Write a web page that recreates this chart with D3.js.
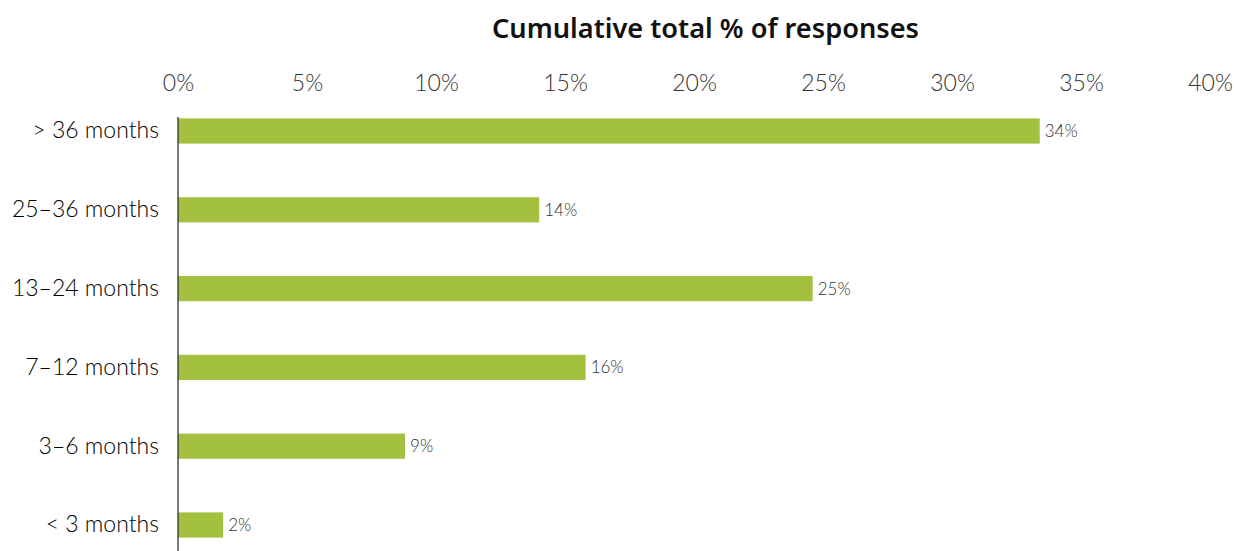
<!DOCTYPE html>
<html><head><meta charset="utf-8">
<script src="https://cdn.jsdelivr.net/npm/d3@7"></script>
<style>
body{margin:0;background:#fff;}
svg{display:block;}
</style></head>
<body>
<svg id="chart" width="1234" height="551"></svg>
<script>
const categories = ["> 36 months","25–36 months","13–24 months","7–12 months","3–6 months","< 3 months"];
const values = [33.4, 14.0, 24.6, 15.8, 8.8, 1.75];
const valueLabels = ["34%","14%","25%","16%","9%","2%"];
const tickValues = [0,5,10,15,20,25,30,35,40];
const title = "Cumulative total % of responses";

const svg = d3.select("#chart");
const x = d3.scaleLinear().domain([0,40]).range([178,1210]);
const y = d3.scaleBand().domain(categories).range([91.6,564.4]).paddingInner(0.68).paddingOuter(0.34);

svg.append("text").attr("x",705.5).attr("y",38).attr("text-anchor","middle")
  .attr("font-family","'Noto Sans', 'Open Sans', sans-serif").attr("font-weight","600")
  .attr("font-size",27.2).attr("fill","#111").text(title);

const xAxis = svg.append("g").attr("transform","translate(0,91)")
  .call(d3.axisTop(x).tickValues(tickValues).tickFormat(d=>d+"%").tickSize(0).tickPadding(0));
xAxis.select(".domain").remove();
xAxis.selectAll("text").attr("font-family","Lato, 'Open Sans', sans-serif").attr("font-weight","300")
  .attr("font-size",23).attr("fill","#333");

svg.selectAll("rect.bar").data(categories).join("rect").attr("class","bar")
  .attr("x",x(0)).attr("y",d=>y(d)).attr("height",y.bandwidth())
  .attr("width",(d,i)=>x(values[i])-x(0)).attr("fill","#a3c13e");

svg.selectAll("text.val").data(categories).join("text").attr("class","val")
  .attr("x",(d,i)=>x(values[i])+5).attr("y",d=>y(d)+y.bandwidth()/2).attr("dy","0.35em")
  .attr("font-family","Lato, 'Open Sans', sans-serif").attr("font-weight","300")
  .attr("font-size",17).attr("fill","#333").text((d,i)=>valueLabels[i]);

const yAxis = svg.append("g").attr("transform",`translate(${x(0)},0)`)
  .call(d3.axisLeft(y).tickSize(0).tickPadding(19));
yAxis.select(".domain").remove();
yAxis.selectAll("text").attr("font-family","Lato, 'Open Sans', sans-serif").attr("font-weight","300")
  .attr("font-size",23).attr("fill","#000");
svg.append("line").attr("x1",x(0)).attr("x2",x(0)).attr("y1",117).attr("y2",560)
  .attr("stroke","#222").attr("stroke-width",1.2);
</script>
</body></html>
